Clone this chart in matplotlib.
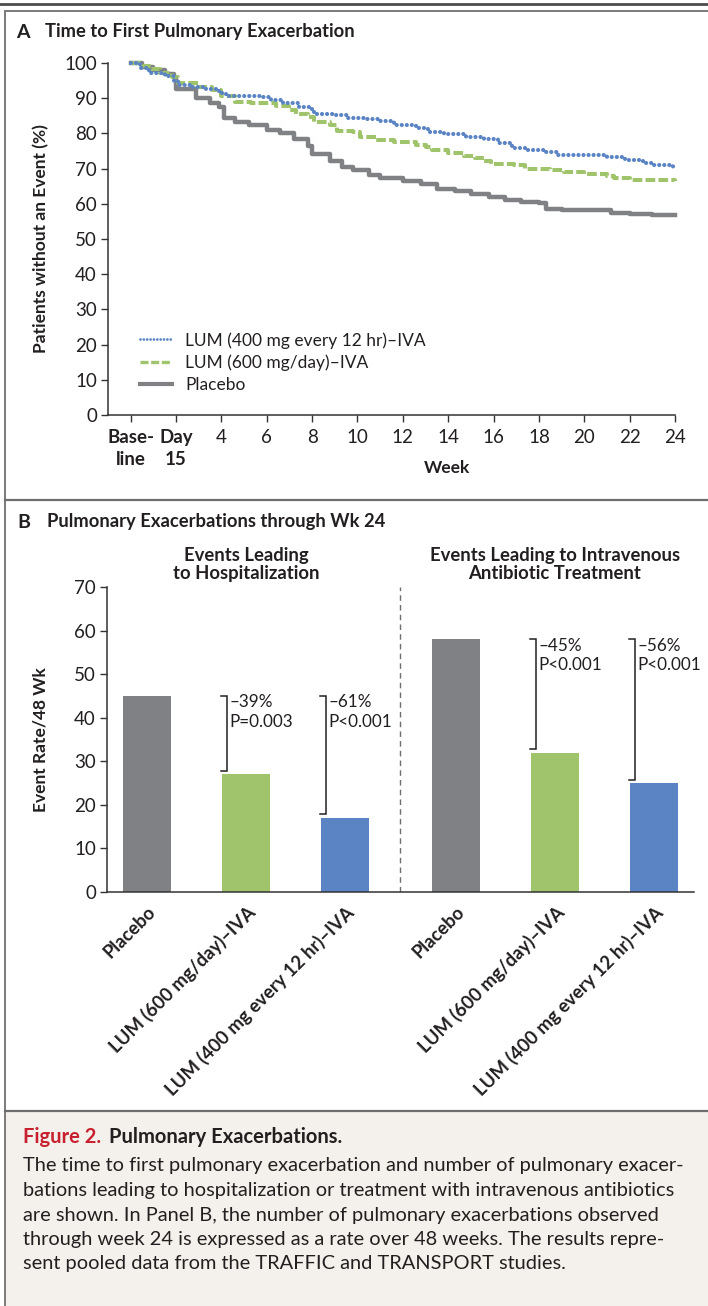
import numpy as np
import matplotlib.pyplot as plt
from matplotlib.patches import Rectangle
from matplotlib.lines import Line2D

plt.rcParams['font.family'] = ['Lato', 'DejaVu Sans']

W, H = 708, 1306
INK = '#231f20'
GRAY = '#808185'
GREEN = '#9fc46b'
BLUE = '#5b84c4'

# Panel A: Kaplan-Meier steps (week, % without an event)
placebo_wk = [0, 0.5, 1.0, 1.5, 1.9, 2.0, 2.9, 3.5, 3.9, 4.1, 4.6, 5.2, 6.0, 6.6, 7.2,
              7.8, 8.0, 8.8, 9.3, 9.8, 10.5, 11.0, 12.0, 12.8, 13.5, 14.3, 15.0, 15.8,
              16.5, 17.2, 18.0, 18.3, 19.0, 21.2, 22.0, 23.0, 24.0]
placebo_pct = [100, 99.0, 98.0, 97.0, 96.0, 92.5, 90.0, 88.5, 87.5, 84.5, 83.3, 82.3, 81.0,
               80.0, 78.4, 76.5, 74.2, 72.2, 70.5, 69.5, 68.3, 67.3, 66.5, 65.5, 64.3, 63.6,
               62.8, 61.8, 61.1, 60.5, 60.1, 58.6, 58.1, 57.5, 57.0, 56.7, 56.7]

lum400_wk = [0, 0.4, 0.8, 1.5, 1.9, 2.1, 2.7, 3.3, 3.9, 4.2, 5.7, 6.2, 6.7, 7.4, 7.9, 8.1,
             9.0, 9.6, 10.3, 11.0, 11.6, 12.6, 13.1, 13.8, 14.8, 15.6, 16.2, 16.8, 17.4,
             18.3, 18.8, 21.0, 21.8, 22.6, 23.0, 23.9, 24.0]
lum400_pct = [100, 98.5, 97.2, 96.2, 95.0, 93.8, 93.2, 92.7, 91.5, 90.6, 90.2, 89.5, 88.5,
              87.5, 86.8, 85.6, 85.2, 84.5, 84.0, 83.4, 82.5, 81.6, 80.5, 79.7, 79.0, 78.5,
              77.2, 75.9, 75.4, 74.8, 74.0, 73.2, 72.4, 71.5, 71.0, 70.3, 70.3]

lum600_wk = [0, 0.5, 0.9, 1.3, 1.8, 2.1, 3.0, 3.6, 4.0, 4.6, 5.3, 6.4, 7.0, 7.3, 7.8, 8.1,
             8.8, 9.1, 9.8, 10.1, 10.8, 11.6, 12.6, 13.0, 13.3, 14.0, 14.7, 15.2, 15.6,
             15.9, 16.9, 17.4, 18.5, 19.1, 20.0, 21.0, 21.3, 22.0, 24.0]
lum600_pct = [100, 99.2, 98.2, 97.3, 96.0, 94.3, 93.3, 92.3, 90.5, 89.0, 88.5, 87.8, 86.6,
              85.6, 84.6, 83.2, 82.4, 80.8, 80.3, 78.9, 78.2, 77.6, 76.8, 76.2, 75.2, 74.5,
              73.6, 72.9, 72.1, 71.2, 70.9, 70.0, 69.6, 69.0, 68.5, 67.9, 67.2, 66.9, 66.5]

week_ticks = list(range(0, 25, 2))
week_labels = ['Base-\nline', 'Day\n15'] + [str(w) for w in range(4, 25, 2)]

# Panel B: event rates per 48 weeks
group_titles = ['Events Leading\nto Hospitalization',
                'Events Leading to Intravenous\nAntibiotic Treatment']
arm_labels = ['Placebo', 'LUM (600 mg/day)–IVA', 'LUM (400 mg every 12 hr)–IVA']
hosp_rates = [45, 27, 17]
iv_rates = [58, 32, 25]
reductions = [['–39%', '–61%'], ['–45%', '–56%']]
p_values = [['P=0.003', 'P<0.001'], ['P<0.001', 'P<0.001']]

caption_lines = [
    'The time to first pulmonary exacerbation and number of pulmonary exacer-',
    'bations leading to hospitalization or treatment with intravenous antibiotics',
    'are shown. In Panel B, the number of pulmonary exacerbations observed',
    'through week 24 is expressed as a rate over 48 weeks. The results repre-',
    'sent pooled data from the TRAFFIC and TRANSPORT studies.',
]


def fx(x):
    return x / W


def fy(y):
    return 1 - y / H


def box(x0, y0, x1, y1):
    return [fx(x0), fy(y1), (x1 - x0) / W, (y1 - y0) / H]


fig = plt.figure(figsize=(W / 100, H / 100), dpi=100)

# frame lines and caption background
fig.add_artist(Rectangle((fx(5), 0), 1 - fx(5), fy(1111), transform=fig.transFigure,
                         facecolor='#f4f1ec', edgecolor='none', zorder=0))
fig.add_artist(Line2D([0, 1], [fy(4), fy(4)], color='#4d4d4d', lw=2.0))
fig.add_artist(Line2D([fx(5), 1], [fy(11), fy(11)], color='#7a7a7a', lw=1.4))
fig.add_artist(Line2D([fx(5), fx(5)], [fy(11), 0], color='#7a7a7a', lw=1.4))
fig.add_artist(Line2D([fx(5), 1], [fy(500), fy(500)], color='#6e6e6e', lw=1.6))
fig.add_artist(Line2D([fx(5), 1], [fy(1111), fy(1111)], color='#6e6e6e', lw=1.6))

TICK = 13.5
LAB = 12.5
TITLE = 13.2

# ---- Panel A ----
fig.text(fx(16), fy(32), 'A', fontsize=14, fontweight='bold', color=INK, va='center')
fig.text(fx(45), fy(32), 'Time to First Pulmonary Exacerbation', fontsize=TITLE,
         fontweight='bold', color=INK, va='center')

ax = fig.add_axes(box(108, 63, 675, 415))
ax.step(lum400_wk, lum400_pct, where='post', color=BLUE, lw=3.0,
        linestyle=(0, (0.01, 1.2)), dash_capstyle='round', clip_on=False, zorder=4,
        label='LUM (400 mg every 12 hr)–IVA')
ax.step(lum600_wk, lum600_pct, where='post', color=GREEN, lw=2.9,
        linestyle=(0, (2.4, 0.8)), clip_on=False, zorder=3,
        label='LUM (600 mg/day)–IVA')
ax.step(placebo_wk, placebo_pct, where='post', color=GRAY, lw=3.2, clip_on=False,
        zorder=2, label='Placebo')
ax.set_xlim(-1, 24)
ax.set_ylim(0, 100)
ax.set_yticks(range(0, 101, 10))
ax.set_xticks(week_ticks)
ax.set_xticklabels(week_labels, linespacing=1.35)
for i, t in enumerate(ax.get_xticklabels()):
    if i < 2:
        t.set_fontweight('bold')
        t.set_fontsize(13)
for s in ['top', 'right']:
    ax.spines[s].set_visible(False)
for s in ['left', 'bottom']:
    ax.spines[s].set_color('#333333')
    ax.spines[s].set_linewidth(1.1)
ax.tick_params(axis='y', direction='out', length=5, width=1.0, color='#333333',
               labelsize=TICK, labelcolor=INK, pad=3)
ax.tick_params(axis='x', direction='out', length=5, width=1.0, color='#333333',
               labelsize=TICK, labelcolor=INK, pad=5)
ax.set_ylabel('Patients without an Event (%)', fontsize=LAB, fontweight='bold',
              color=INK)
ax.yaxis.set_label_coords(-(108 - 49) / (675 - 108), 0.5)
ax.set_xlabel('Week', fontsize=LAB, fontweight='bold', color=INK)
ax.xaxis.set_label_coords((447 - 108) / (675 - 108), -(468 - 415) / (415 - 63))
ax.xaxis.label.set_va('center')

leg = ax.legend(loc='upper left', bbox_to_anchor=(fx(140), fy(332)),
                bbox_transform=fig.transFigure, frameon=False, fontsize=12.5,
                handlelength=1.85, handletextpad=0.75, labelspacing=0.33,
                borderpad=0, borderaxespad=0)
for line, lw in zip(leg.get_lines(), [2.0, 2.4, 3.0]):
    line.set_linewidth(lw)
for t in leg.get_texts():
    t.set_color(INK)

# ---- Panel B ----
fig.text(fx(17), fy(522), 'B', fontsize=14, fontweight='bold', color=INK, va='center')
fig.text(fx(47), fy(522), 'Pulmonary Exacerbations through Wk 24', fontsize=TITLE,
         fontweight='bold', color=INK, va='center')

bx = fig.add_axes(box(107, 587, 694, 892))
gap = 3.12
pos = [np.arange(3), np.arange(3) + gap]
rates = [hosp_rates, iv_rates]
colors = [GRAY, GREEN, BLUE]
width = 0.49
for g in range(2):
    bx.bar(pos[g], rates[g], width=width, color=colors, zorder=2)
    top = rates[g][0]
    for k in range(1, 3):
        xb = pos[g][k] - width / 2 + 0.05
        bot = rates[g][k] + 0.8
        bx.plot([xb - 0.06, xb, xb, xb - 0.06], [top, top, bot, bot],
                color=INK, lw=1.1, solid_joinstyle='miter')
        bx.text(xb + 0.03, top + 0.4, reductions[g][k - 1] + '\n' + p_values[g][k - 1],
                fontsize=12.3, color=INK, va='top', ha='left', linespacing=1.3)
    cx = pos[g].mean()
    bx.text(cx, 1.015, group_titles[g], transform=bx.get_xaxis_transform(),
            fontsize=13.3, fontweight='bold', color=INK, ha='center', va='bottom',
            linespacing=1.1)
mid = (pos[0][-1] + pos[1][0]) / 2
bx.plot([mid, mid], [0, 70], color='#6e6e6e', lw=1.0, linestyle=(0, (4, 3)))

bx.set_xlim(-0.404, 5.525)
bx.set_ylim(0, 70)
bx.set_yticks(range(0, 71, 10))
bx.set_xticks(np.concatenate(pos))
bx.set_xticklabels(arm_labels * 2, rotation=45, ha='right', va='top',
                   rotation_mode='anchor', fontweight='bold')
for s in ['top', 'right']:
    bx.spines[s].set_visible(False)
for s in ['left', 'bottom']:
    bx.spines[s].set_color('#333333')
    bx.spines[s].set_linewidth(1.1)
bx.tick_params(axis='y', direction='out', length=5, width=1.0, color='#333333',
               labelsize=TICK, labelcolor=INK, pad=3)
bx.tick_params(axis='x', length=0, labelsize=13.3, labelcolor=INK, pad=8)
bx.set_ylabel('Event Rate/48 Wk', fontsize=LAB, fontweight='bold', color=INK)
bx.yaxis.set_label_coords(-(107 - 49) / (694 - 107), 0.5)

# ---- Caption ----
fig.text(fx(23), fy(1137), 'Figure 2.', fontsize=14.5, fontweight='bold',
         color='#c8202f', va='center')
fig.text(fx(109), fy(1137), 'Pulmonary Exacerbations.', fontsize=14.5, fontweight='bold',
         color=INK, va='center')
for i, line in enumerate(caption_lines):
    fig.text(fx(23), fy(1166 + 24.5 * i), line, fontsize=14.4, color=INK, va='center')

fig.savefig('out.png', dpi=100)
